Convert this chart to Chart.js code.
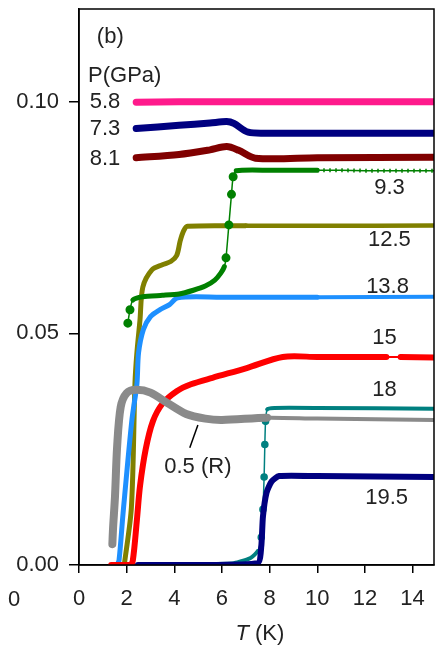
<!DOCTYPE html>
<html>
<head>
<meta charset="utf-8">
<script src="https://cdn.jsdelivr.net/npm/chart.js@4.4.1/dist/chart.umd.min.js"></script>
<style>
  body { margin: 0; background: #fff; }
  canvas { display: block; }
</style>
</head>
<body>
<canvas id="grafico" width="437" height="648"></canvas>
<script>
// datos: T en K, valor del eje y
var T58 = [2.4, 6, 10, 14.9];
var R58 = [0.0999, 0.1, 0.1, 0.1];

var T73 = [2.4, 4.2, 5.5, 6.2, 6.5, 7.1, 8, 14.9];
var R73 = [0.0942, 0.0949, 0.0954, 0.0957, 0.0953, 0.0934, 0.0932, 0.0932];

var T81 = [2.4, 4.2, 5.5, 6.2, 6.7, 7.4, 10, 14.9];
var R81 = [0.0879, 0.0886, 0.0896, 0.0903, 0.0895, 0.0878, 0.0879, 0.088];

var T93 = [2.05, 2.14, 2.26, 2.68, 3.5, 4.2, 4.8, 5.3, 5.7, 5.95, 6.1, 6.17, 6.29, 6.4, 6.47, 6.6, 8, 10, 11, 12, 13, 14, 14.9];
var R93 = [0.0522, 0.0551, 0.0572, 0.0579, 0.0582, 0.0585, 0.0593, 0.0602, 0.0615, 0.063, 0.0644, 0.0663, 0.0734, 0.08, 0.0838, 0.0851, 0.0852, 0.0852, 0.0852, 0.0851, 0.0851, 0.0851, 0.0851];

var T125 = [1.9, 2.2, 2.35, 2.43, 2.56, 2.68, 3.06, 3.5, 3.85, 4.1, 4.25, 4.4, 4.55, 7, 10, 14.9];
var R125 = [0, 0.0125, 0.0393, 0.0458, 0.0529, 0.06, 0.0637, 0.0648, 0.0655, 0.0668, 0.07, 0.0722, 0.0731, 0.0732, 0.0732, 0.0733];

var T138 = [1.6, 1.68, 1.85, 2.22, 2.43, 2.5, 2.7, 3.0, 3.4, 3.8, 4.15, 6, 10, 14.9];
var R138 = [0, 0.001, 0.0112, 0.0313, 0.039, 0.0458, 0.0508, 0.0536, 0.0551, 0.0562, 0.0577, 0.0578, 0.0578, 0.0579];

var T15 = [1.35, 2.15, 2.26, 2.43, 2.56, 2.8, 3.1, 3.5, 4.1, 4.7, 5.6, 7.04, 8.55, 10, 12.9, 13.5, 14.9];
var R15 = [0, 0, 0.001, 0.0097, 0.017, 0.025, 0.031, 0.0348, 0.0375, 0.039, 0.0404, 0.0425, 0.0449, 0.0449, 0.0449, 0.0449, 0.0448];

var T18 = [2.6, 5, 6.5, 7.2, 7.5, 7.65, 7.72, 7.77, 7.8, 7.83, 7.9, 8.2, 10, 14.9];
var R18 = [0, 0.0002, 0.0004, 0.0015, 0.003, 0.006, 0.012, 0.019, 0.026, 0.031, 0.0336, 0.0339, 0.0339, 0.0337];

var T195 = [2.47, 5, 7.5, 7.65, 7.72, 7.87, 8.08, 8.4, 10, 14.9];
var R195 = [0, 0, 0.0004, 0.004, 0.0104, 0.0156, 0.018, 0.0192, 0.0192, 0.019];

var TR = [1.4, 1.43, 1.51, 1.6, 1.75, 2.0, 2.4, 3.0, 3.7, 4.5, 5.3, 6.0, 7.9, 10, 14.9];
var RR = [0.0045, 0.008, 0.0147, 0.0255, 0.0341, 0.0371, 0.0378, 0.0372, 0.035, 0.0326, 0.0316, 0.0313, 0.0318, 0.0316, 0.0313];

var xTicks = [0, 2, 4, 6, 8, 10, 12, 14];
var yTicks = [0, 0.05, 0.10];

// etiquetas de presion (en coordenadas de datos)
var etiquetas = [
  { text: '(b)', x: 0.75, y: 0.1140, align: 'left' },
  { text: 'P(GPa)', x: 0.38, y: 0.1055, align: 'left' },
  { text: '5.8', x: 0.45, y: 0.1000, align: 'left' },
  { text: '7.3', x: 0.45, y: 0.0942, align: 'left' },
  { text: '8.1', x: 0.45, y: 0.0877, align: 'left' },
  { text: '9.3', x: 13.03, y: 0.0814, align: 'center' },
  { text: '12.5', x: 13.03, y: 0.0702, align: 'center' },
  { text: '13.8', x: 12.95, y: 0.0600, align: 'center' },
  { text: '15', x: 12.82, y: 0.0490, align: 'center' },
  { text: '18', x: 12.82, y: 0.0378, align: 'center' },
  { text: '19.5', x: 12.91, y: 0.0145, align: 'center' },
  { text: '0.5 (R)', x: 4.99, y: 0.0212, align: 'center' }
];

var FUENTE = '"Liberation Sans", Arial, sans-serif';
var TAM = 22;

function puntos(t, r) {
  return t.map(function (x, i) { return { x: x, y: r[i] }; });
}

function enRango(x, rangos) {
  return rangos.some(function (r) { return x >= r[0] - 1e-9 && x <= r[1] + 1e-9; });
}

// ancho de linea por tramo: delgado dentro de los rangos dados
function anchoTramo(rangos, grueso, delgado) {
  return function (ctx) {
    var a = ctx.p0.parsed.x, b = ctx.p1.parsed.x;
    return (enRango(a, rangos) && enRango(b, rangos)) ? delgado : grueso;
  };
}

function radioPunto(rangos, r) {
  return function (ctx) {
    if (!ctx.parsed) return 0;
    return enRango(ctx.parsed.x, rangos) ? r : 0;
  };
}

function serie(label, data, color, ancho, extra) {
  var ds = {
    label: label,
    data: data,
    borderColor: color,
    backgroundColor: color,
    borderWidth: ancho,
    borderCapStyle: 'round',
    borderJoinStyle: 'round',
    pointRadius: 0,
    fill: false,
    tension: 0.3
  };
  for (var k in extra) ds[k] = extra[k];
  return ds;
}

var delgado93 = [[2.05, 2.26], [6.1, 6.6], [10, 15]];
var delgado18 = [[7.5, 7.9]];

var datasets = [
  serie('0.5 (R)', puntos(TR, RR), '#8a8a8a', 8, { segment: { borderWidth: anchoTramo([[7.9, 15]], 8, 4) } }),
  serie('15', puntos(T15, R15), '#ff0000', 6, { segment: { borderWidth: anchoTramo([[12.9, 13.5]], 6, 2) } }),
  serie('9.3', puntos(T93, R93), '#008000', 5, {
    segment: { borderWidth: anchoTramo(delgado93, 5, 1.5) },
    pointRadius: radioPunto([[2.05, 2.14], [6.17, 6.47]], 2),
    pointStyle: 'circle', tension: 0.2
  }),
  serie('9.3 marcas', puntos(T93.slice(17), R93.slice(17)), '#008000', 4, {
    borderDash: [1.5, 4.5], borderCapStyle: 'butt', tension: 0
  }),
  serie('13.8', puntos(T138, R138), '#1e90ff', 5, { segment: { borderWidth: anchoTramo([[10, 15]], 5, 4) } }),
  serie('12.5', puntos(T125, R125), '#808000', 5, { segment: { borderWidth: anchoTramo([[7, 15]], 5, 4.5) } }),
  serie('19.5', puntos(T195, R195), '#000080', 6, { tension: 0.2 }),
  serie('18', puntos(T18, R18), '#008080', 4, {
    segment: { borderWidth: anchoTramo(delgado18, 4, 1.5) },
    pointRadius: radioPunto([[7.65, 7.83]], 1.8), tension: 0.2
  }),
  serie('8.1', puntos(T81, R81), '#800000', 7, {}),
  serie('7.3', puntos(T73, R73), '#000080', 7, {}),
  serie('5.8', puntos(T58, R58), '#ff1a8c', 7, {})
];

// marco, anotaciones y titulo del eje x
var anotaciones = {
  id: 'anotaciones',
  afterDraw: function (chart) {
    var ctx = chart.ctx, a = chart.chartArea;
    var sx = chart.scales.x, sy = chart.scales.y;
    ctx.save();
    ctx.strokeStyle = '#000';
    ctx.lineWidth = 1.5;
    ctx.strokeRect(a.left, a.top, a.right - a.left, a.bottom - a.top);

    ctx.fillStyle = '#222';
    ctx.font = TAM + 'px ' + FUENTE;
    ctx.textBaseline = 'middle';
    etiquetas.forEach(function (e) {
      ctx.textAlign = e.align;
      ctx.fillText(e.text, sx.getPixelForValue(e.x), sy.getPixelForValue(e.y));
    });

    // linea guia de 0.5 (R)
    ctx.beginPath();
    ctx.moveTo(sx.getPixelForValue(4.65), sy.getPixelForValue(0.0253));
    ctx.lineTo(sx.getPixelForValue(4.99), sy.getPixelForValue(0.0302));
    ctx.stroke();

    // "0" suelto a la izquierda
    ctx.textAlign = 'center';
    ctx.fillText('0', a.left - 65, a.bottom + 35);

    // titulo: T (K)
    var yT = a.bottom + 69;
    ctx.textAlign = 'left';
    ctx.font = 'italic ' + TAM + 'px ' + FUENTE;
    var wT = ctx.measureText('T').width;
    ctx.font = TAM + 'px ' + FUENTE;
    var wK = ctx.measureText(' (K)').width;
    var x0 = sx.getPixelForValue(7.59) - (wT + wK) / 2;
    ctx.font = 'italic ' + TAM + 'px ' + FUENTE;
    ctx.fillText('T', x0, yT);
    ctx.font = TAM + 'px ' + FUENTE;
    ctx.fillText(' (K)', x0 + wT, yT);
    ctx.restore();
  }
};

var ctx = document.getElementById('grafico').getContext('2d');
var myChart = new Chart(ctx, {
  type: 'line',
  data: { datasets: datasets },
  options: {
    responsive: false,
    animation: false,
    layout: { autoPadding: false, padding: { top: 9, right: 3, left: 0, bottom: 0 } },
    plugins: { legend: { display: false }, tooltip: { enabled: false } },
    scales: {
      x: {
        type: 'linear',
        min: 0,
        max: 14.9,
        afterFit: function (scale) {
          scale.height = 83;
          scale.paddingLeft = 0;
          scale.paddingRight = 0;
        },
        afterBuildTicks: function (scale) {
          scale.ticks = xTicks.map(function (v) { return { value: v }; });
        },
        border: { display: true, color: '#000', width: 1.5 },
        grid: { display: true, drawOnChartArea: false, drawTicks: true, tickLength: 8, color: '#000', lineWidth: 1.5 },
        ticks: {
          color: '#222',
          padding: 13,
          maxRotation: 0,
          font: { family: FUENTE, size: TAM },
          callback: function (v) { return String(v); }
        }
      },
      y: {
        type: 'linear',
        min: 0,
        max: 0.12,
        afterFit: function (scale) {
          scale.width = 79;
          scale.paddingTop = 0;
          scale.paddingBottom = 0;
        },
        afterBuildTicks: function (scale) {
          scale.ticks = yTicks.map(function (v) { return { value: v }; });
        },
        border: { display: true, color: '#000', width: 1.5 },
        grid: { display: true, drawOnChartArea: false, drawTicks: true, tickLength: 10, color: '#000', lineWidth: 1.5 },
        ticks: {
          color: '#222',
          padding: 10,
          font: { family: FUENTE, size: TAM },
          callback: function (v) { return v.toFixed(2); }
        }
      }
    }
  },
  plugins: [anotaciones]
});
</script>
</body>
</html>
